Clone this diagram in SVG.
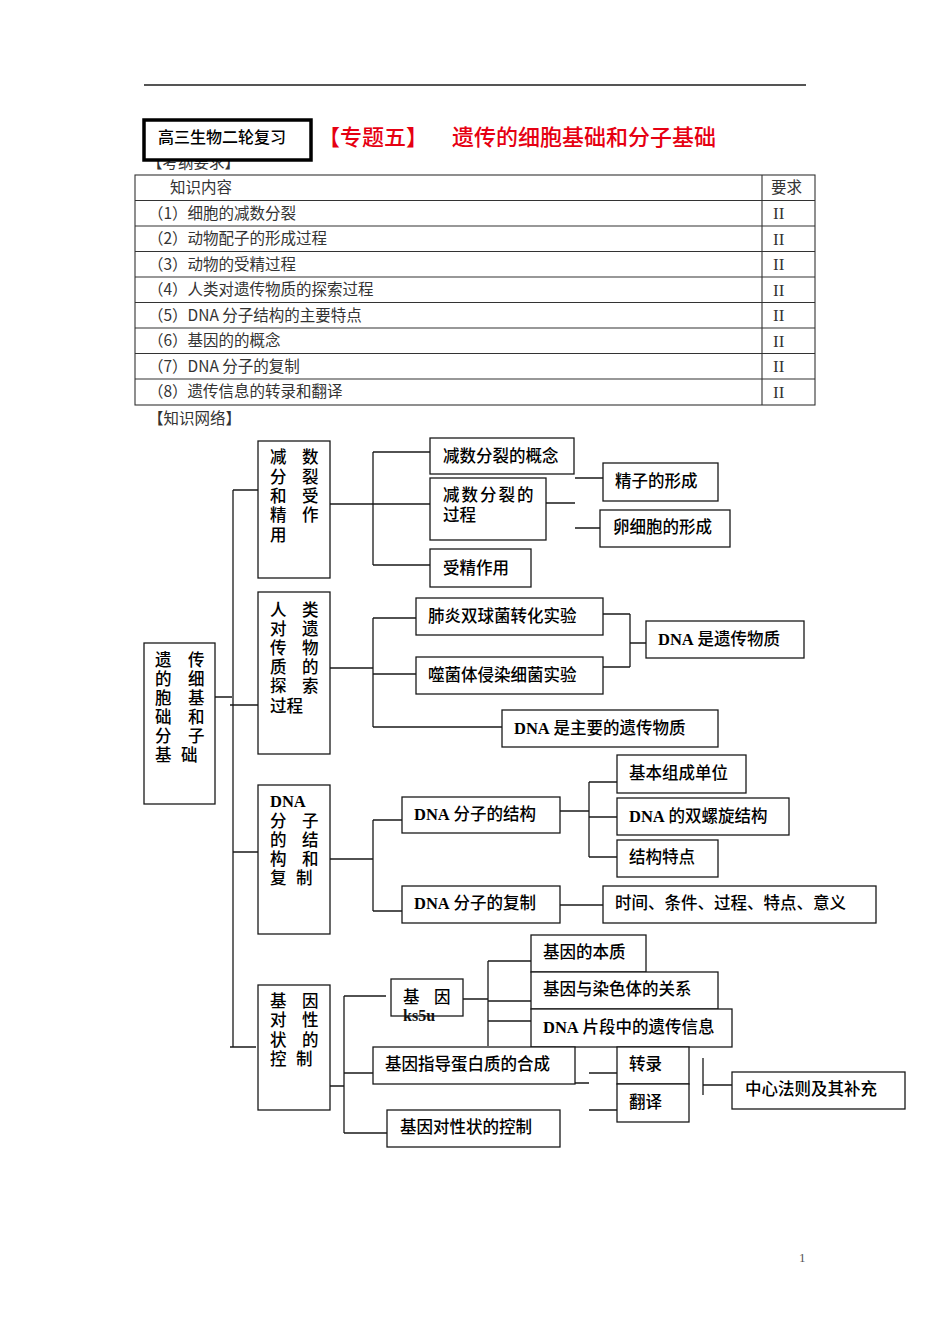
<svg xmlns="http://www.w3.org/2000/svg" width="950" height="1344" viewBox="0 0 950 1344">
<style>
.box{fill:#fff;stroke:#1a1a1a;stroke-width:1.3}
.ln{stroke:#1a1a1a;stroke-width:1.3;fill:none}
.t{font-family:"Noto Sans CJK SC","Noto Sans",sans-serif;font-size:16.5px;font-weight:500;fill:#000}
.v{font-family:"Liberation Sans","Noto Sans CJK SC",sans-serif;font-size:16.5px;font-weight:500;fill:#000}
.tb{font-family:"Noto Sans CJK SC","Noto Sans",sans-serif;font-size:15.5px;fill:#333}
.d{font-family:"Liberation Serif","Noto Sans CJK SC",serif;font-weight:bold}
.tl{stroke:#333;stroke-width:1.1;fill:none}
</style>
<rect width="950" height="1344" fill="#fff"/>
<line x1="144" y1="85" x2="806" y2="85" stroke="#555" stroke-width="2"/>

<g id="header">
<text class="tb" x="147" y="168" fill="#222">【考纲要求】</text>
<rect x="144" y="120" width="167" height="40" fill="#fff" stroke="#000" stroke-width="3.5"/>
<text class="t" x="158" y="143" style="font-size:16px">高三生物二轮复习</text>
<text class="t" x="318" y="145" style="font-size:22px;fill:#e60012">【专题五】</text>
<text class="t" x="452" y="145" style="font-size:22px;fill:#e60012">遗传的细胞基础和分子基础</text>
</g>

<g id="table">
<rect class="tl" x="135" y="175" width="680" height="230"/>
<path class="tl" d="M135 200.5H815M135 226H815M135 251.5H815M135 277H815M135 302.5H815M135 328H815M135 353.5H815M135 379H815M762 175V405"/>
<text class="tb" x="170" y="193">知识内容</text>
<text class="tb" x="771" y="193">要求</text>
<text class="tb" x="148" y="218.5">（1）细胞的减数分裂</text>
<text class="tb" x="148" y="244">（2）动物配子的形成过程</text>
<text class="tb" x="148" y="269.5">（3）动物的受精过程</text>
<text class="tb" x="148" y="295">（4）人类对遗传物质的探索过程</text>
<text class="tb" x="148" y="320.5">（5）DNA 分子结构的主要特点</text>
<text class="tb" x="148" y="346">（6）基因的的概念</text>
<text class="tb" x="148" y="371.5">（7）DNA 分子的复制</text>
<text class="tb" x="148" y="397">（8）遗传信息的转录和翻译</text>
<g font-family="Liberation Serif,serif" font-size="17" fill="#333">
<text x="773" y="219">II</text><text x="773" y="244.5">II</text><text x="773" y="270">II</text><text x="773" y="295.5">II</text>
<text x="773" y="321">II</text><text x="773" y="346.5">II</text><text x="773" y="372">II</text><text x="773" y="397.5">II</text>
</g>
<text class="tb" x="148" y="424">【知识网络】</text>
</g>

<g id="connectors">
<path class="ln" d="M215 697H232M233 490V1047M233 490H258M230 705H258M233 852H258M230 1047H256"/>
<path class="ln" d="M330 504H373M373 452V565M373 452H430M373 504H430M373 565H430"/>
<path class="ln" d="M546 503H575M575 478H603M575 528H600"/>
<path class="ln" d="M330 668H373M373 618V727M373 618H416M373 674H416M373 727H502"/>
<path class="ln" d="M603 614H630M603 667H630M630 614V667M630 643H646"/>
<path class="ln" d="M330 859H373M373 820V911M373 820H402M373 911H402"/>
<path class="ln" d="M560 811H589M589 782V857M589 782H617M589 817H617M589 857H617"/>
<path class="ln" d="M560 905H603"/>
<path class="ln" d="M330 1086H344M344 996V1133M344 996H386M344 1073H373M344 1133H387"/>
<path class="ln" d="M463 999H488M488 961V1046M488 961H531M488 1001H531M488 1021H531"/>
<path class="ln" d="M575 1083H589M589 1073H617M589 1110H617"/>
<path class="ln" d="M703 1058V1095M703 1085H732"/>
</g>

<g id="root">
<rect class="box" x="144" y="643" width="71" height="161"/>
<text class="v" x="155" y="666">遗</text><text class="v" x="188" y="666">传</text>
<text class="v" x="155" y="685">的</text><text class="v" x="188" y="685">细</text>
<text class="v" x="155" y="704">胞</text><text class="v" x="188" y="704">基</text>
<text class="v" x="155" y="723">础</text><text class="v" x="188" y="723">和</text>
<text class="v" x="155" y="742">分</text><text class="v" x="188" y="742">子</text>
<text class="v" x="155" y="761">基</text><text class="v" x="181" y="761">础</text>
</g>

<g id="n-meiosis">
<rect class="box" x="258" y="441" width="72" height="137"/>
<text class="v" x="270" y="463">减</text><text class="v" x="302" y="463">数</text>
<text class="v" x="270" y="483">分</text><text class="v" x="302" y="483">裂</text>
<text class="v" x="270" y="502">和</text><text class="v" x="302" y="502">受</text>
<text class="v" x="270" y="521">精</text><text class="v" x="302" y="521">作</text>
<text class="v" x="270" y="541">用</text>
</g>
<g id="n-concept"><rect class="box" x="430" y="438" width="144" height="36"/><text class="t" x="443" y="462">减数分裂的概念</text></g>
<g id="n-process"><rect class="box" x="430" y="478" width="116" height="62"/><text class="v" x="443" y="501" letter-spacing="2">减数分裂的</text><text class="v" x="443" y="521">过程</text></g>
<g id="n-sperm"><rect class="box" x="603" y="463" width="115" height="38"/><text class="t" x="615" y="487">精子的形成</text></g>
<g id="n-egg"><rect class="box" x="600" y="510" width="130" height="37"/><text class="t" x="613" y="533">卵细胞的形成</text></g>
<g id="n-fert"><rect class="box" x="430" y="549" width="101" height="38"/><text class="t" x="443" y="574">受精作用</text></g>

<g id="n-explore">
<rect class="box" x="258" y="592" width="72" height="162"/>
<text class="v" x="270" y="616">人</text><text class="v" x="302" y="616">类</text>
<text class="v" x="270" y="635">对</text><text class="v" x="302" y="635">遗</text>
<text class="v" x="270" y="654">传</text><text class="v" x="302" y="654">物</text>
<text class="v" x="270" y="673">质</text><text class="v" x="302" y="673">的</text>
<text class="v" x="270" y="692">探</text><text class="v" x="302" y="692">索</text>
<text class="v" x="270" y="712">过程</text>
</g>
<g id="n-pneumo"><rect class="box" x="416" y="598" width="187" height="37"/><text class="t" x="428" y="622">肺炎双球菌转化实验</text></g>
<g id="n-phage"><rect class="box" x="416" y="657" width="187" height="37"/><text class="t" x="428" y="681">噬菌体侵染细菌实验</text></g>
<g id="n-dna-gm"><rect class="box" x="646" y="621" width="158" height="37"/><text class="t" x="658" y="645"><tspan class="d">DNA</tspan> 是遗传物质</text></g>
<g id="n-dna-main"><rect class="box" x="502" y="710" width="216" height="37"/><text class="t" x="514" y="734"><tspan class="d">DNA</tspan> 是主要的遗传物质</text></g>

<g id="n-dna">
<rect class="box" x="258" y="785" width="72" height="149"/>
<text class="v d" x="270" y="807">DNA</text>
<text class="v" x="270" y="827">分</text><text class="v" x="302" y="827">子</text>
<text class="v" x="270" y="846">的</text><text class="v" x="302" y="846">结</text>
<text class="v" x="270" y="865">构</text><text class="v" x="302" y="865">和</text>
<text class="v" x="270" y="884">复</text><text class="v" x="296" y="884">制</text>
</g>
<g id="n-struct"><rect class="box" x="402" y="797" width="158" height="36"/><text class="t" x="414" y="820"><tspan class="d">DNA</tspan> 分子的结构</text></g>
<g id="n-unit"><rect class="box" x="617" y="755" width="129" height="38"/><text class="t" x="629" y="779">基本组成单位</text></g>
<g id="n-helix"><rect class="box" x="617" y="798" width="172" height="37"/><text class="t" x="629" y="822"><tspan class="d">DNA</tspan> 的双螺旋结构</text></g>
<g id="n-feat"><rect class="box" x="617" y="840" width="101" height="37"/><text class="t" x="629" y="863">结构特点</text></g>
<g id="n-repl"><rect class="box" x="402" y="886" width="158" height="37"/><text class="t" x="414" y="909"><tspan class="d">DNA</tspan> 分子的复制</text></g>
<g id="n-time"><rect class="box" x="603" y="886" width="273" height="37"/><text class="t" x="615" y="909">时间、条件、过程、特点、意义</text></g>

<g id="n-gene-ctrl">
<rect class="box" x="258" y="985" width="72" height="125"/>
<text class="v" x="270" y="1007">基</text><text class="v" x="302" y="1007">因</text>
<text class="v" x="270" y="1026">对</text><text class="v" x="302" y="1026">性</text>
<text class="v" x="270" y="1046">状</text><text class="v" x="302" y="1046">的</text>
<text class="v" x="270" y="1065">控</text><text class="v" x="296" y="1065">制</text>
</g>
<g id="n-gene"><rect class="box" x="391" y="979" width="72" height="37"/><text class="v" x="403" y="1003">基</text><text class="v" x="434" y="1003">因</text><text class="d" x="403" y="1021" font-size="16" fill="#111">ks5u</text></g>
<g id="n-ess"><rect class="box" x="531" y="935" width="115" height="37"/><text class="t" x="543" y="958">基因的本质</text></g>
<g id="n-chrom"><rect class="box" x="531" y="972" width="187" height="37"/><text class="t" x="543" y="995">基因与染色体的关系</text></g>
<g id="n-info"><rect class="box" x="531" y="1009" width="201" height="38"/><text class="t" x="543" y="1033"><tspan class="d">DNA</tspan> 片段中的遗传信息</text></g>
<g id="n-prot"><rect class="box" x="373" y="1047" width="202" height="37"/><text class="t" x="385" y="1070">基因指导蛋白质的合成</text></g>
<g id="n-trans"><rect class="box" x="617" y="1047" width="72" height="37"/><text class="t" x="629" y="1070">转录</text></g>
<g id="n-transl"><rect class="box" x="617" y="1084" width="72" height="38"/><text class="t" x="629" y="1108">翻译</text></g>
<g id="n-central"><rect class="box" x="732" y="1072" width="173" height="37"/><text class="t" x="745" y="1095">中心法则及其补充</text></g>
<g id="n-ctrl"><rect class="box" x="387" y="1110" width="173" height="37"/><text class="t" x="400" y="1133">基因对性状的控制</text></g>

<text x="799" y="1262" font-family="Liberation Serif,serif" font-size="13" fill="#555">1</text>
</svg>
